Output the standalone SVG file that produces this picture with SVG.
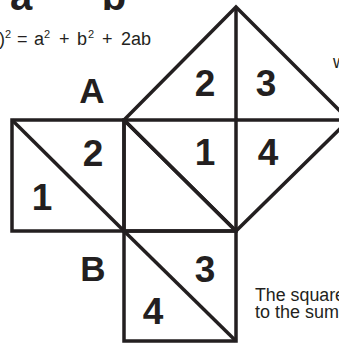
<svg xmlns="http://www.w3.org/2000/svg" width="339" height="343" viewBox="0 0 339 343">
<style>
.ln{fill:none;stroke:#231f20;stroke-width:3.5;stroke-linejoin:miter;stroke-linecap:butt}
.big{font-family:"Liberation Sans",Arial,sans-serif;font-weight:bold;font-size:37px;fill:#231f20;text-anchor:middle}
.txt{font-family:"Liberation Sans",Arial,sans-serif;font-size:18px;fill:#231f20}
.eq{font-family:"Liberation Sans",Arial,sans-serif;font-size:18px;fill:#231f20}
.sup{font-size:11px}
</style>
<rect width="339" height="343" fill="#ffffff"/>
<g id="heading">
<text class="big" x="21" y="10" style="font-size:40px">a</text>
<text class="big" x="114" y="10" style="font-size:40px">b</text>
<text class="eq" y="45"><tspan x="-1">)</tspan><tspan x="5" y="38" class="sup">2</tspan><tspan x="17" y="45">=</tspan><tspan x="34">a</tspan><tspan x="44" y="38" class="sup">2</tspan><tspan x="59" y="45">+</tspan><tspan x="77">b</tspan><tspan x="88" y="38" class="sup">2</tspan><tspan x="102" y="45">+</tspan><tspan x="121">2ab</tspan></text>
</g>
<g id="square-A">
<rect class="ln" x="12" y="120" width="112" height="111"/>
<line class="ln" x1="12" y1="120" x2="124" y2="231"/>
<text class="big" x="93" y="166">2</text>
<text class="big" x="42" y="210">1</text>
<text class="big" x="92" y="103" style="font-size:35px">A</text>
</g>
<g id="square-B">
<rect class="ln" x="124" y="231" width="112" height="110"/>
<line class="ln" x1="124" y1="231" x2="236" y2="341"/>
<text class="big" x="205" y="282">3</text>
<text class="big" x="153" y="324">4</text>
<text class="big" x="93" y="281" style="font-size:35px">B</text>
</g>
<g id="square-C">
<polygon class="ln" points="236,7 349,120 236,231 124,120"/>
<rect class="ln" x="124" y="120" width="112" height="111"/>
<line class="ln" x1="124" y1="120" x2="236" y2="231"/>
<line class="ln" x1="236" y1="7" x2="236" y2="120"/>
<line class="ln" x1="236" y1="120" x2="345" y2="120"/>
<text class="big" x="205" y="96">2</text>
<text class="big" x="266" y="96">3</text>
<text class="big" x="205" y="165">1</text>
<text class="big" x="268" y="165">4</text>
</g>
<g id="connectors"></g>
<g id="caption">
<text class="txt" x="333" y="68">w</text>
<text class="txt" x="255" y="301" textLength="90" lengthAdjust="spacingAndGlyphs">The square</text>
<text class="txt" x="255" y="318" textLength="84" lengthAdjust="spacingAndGlyphs">to the sum</text>
</g>
</svg>
